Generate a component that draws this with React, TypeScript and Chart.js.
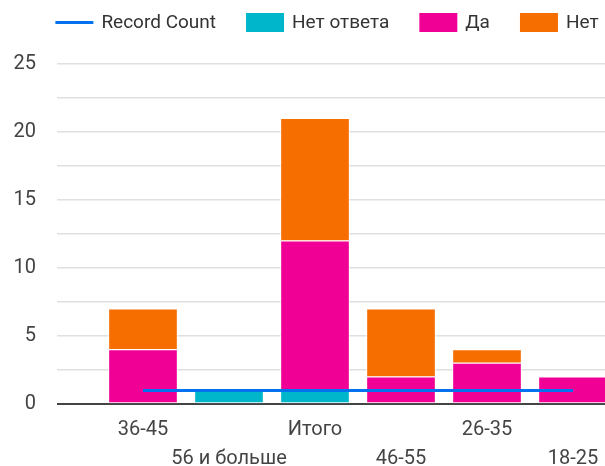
import React, { useEffect, useRef } from 'react';
import { Chart, registerables } from 'chart.js';
Chart.register(...registerables);

const categories = ['36-45', '56 и больше', 'Итого', '46-55', '26-35', '18-25'];
const recordCount = [1, 1, 1, 1, 1, 1];
const netOtveta = [0, 1, 1, 0, 0, 0];
const da = [4, 0, 11, 2, 3, 2];
const net = [3, 0, 9, 5, 1, 0];
const yTickLabels = [0, 5, 10, 15, 20, 25];

const FONT = 'Roboto, sans-serif';
const COLORS = { line: '#0072f0', teal: '#00b6cb', magenta: '#f10096', orange: '#f66d00' };

const legendPlugin = {
  id: 'customLegend',
  afterDraw(chart: any) {
    const ctx = chart.ctx;
    ctx.save();
    ctx.font = `19px ${FONT}`;
    const items = chart.data.datasets.map((ds: any) => ({
      label: ds.label,
      color: ds.type === 'line' ? ds.borderColor : ds.backgroundColor,
      line: ds.type === 'line',
    }));
    const symW = 38, gapST = 8, gapItem = 30;
    const widths = items.map((it: any) => symW + gapST + ctx.measureText(it.label).width);
    const total = widths.reduce((a: number, b: number) => a + b, 0) + gapItem * (items.length - 1);
    let x = 327 - total / 2;
    const cy = 22.5;
    items.forEach((it: any, i: number) => {
      if (it.line) {
        ctx.strokeStyle = it.color;
        ctx.lineWidth = 3;
        ctx.beginPath();
        ctx.moveTo(x, cy);
        ctx.lineTo(x + symW, cy);
        ctx.stroke();
      } else {
        ctx.fillStyle = it.color;
        ctx.fillRect(x, cy - 9.5, symW, 19);
      }
      ctx.fillStyle = '#333';
      ctx.textBaseline = 'middle';
      ctx.textAlign = 'left';
      ctx.fillText(it.label, x + symW + gapST, cy + 1);
      x += widths[i] + gapItem;
    });
    ctx.restore();
  },
};

export default function App() {
  const ref = useRef<HTMLCanvasElement>(null);
  useEffect(() => {
    if (!ref.current) return;
    const toXY = (arr: number[]) => categories.map((_, i) => ({ x: i, y: arr[i] }));
    const barCommon = {
      borderColor: 'rgba(255,255,255,0.75)',
      borderWidth: 1,
      borderSkipped: false,
      barThickness: 69,
    };
    const chart = new Chart(ref.current, {
      type: 'bar',
      data: {
        datasets: [
          {
            type: 'line',
            label: 'Record Count',
            data: toXY(recordCount),
            borderColor: COLORS.line,
            backgroundColor: COLORS.line,
            borderWidth: 3,
            pointRadius: 0,
            fill: false,
            tension: 0,
          } as any,
          { label: 'Нет ответа', data: toXY(netOtveta), backgroundColor: COLORS.teal, ...barCommon } as any,
          { label: 'Да', data: toXY(da), backgroundColor: COLORS.magenta, ...barCommon } as any,
          { label: 'Нет', data: toXY(net), backgroundColor: COLORS.orange, ...barCommon } as any,
        ],
      },
      options: {
        animation: false,
        responsive: false,
        maintainAspectRatio: false,
        layout: { padding: { top: 64, left: 0, right: 0, bottom: 0 } },
        plugins: { legend: { display: false }, tooltip: { enabled: false } },
        scales: {
          x: {
            type: 'linear',
            min: -1,
            max: 5.372,
            stacked: true,
            offset: false,
            grid: { display: false },
            border: { display: false },
            afterBuildTicks: (axis: any) => {
              axis.ticks = categories.map((_, i) => ({ value: i }));
            },
            afterFit: (s: any) => {
              s.height = 62;
            },
            ticks: {
              autoSkip: false,
              maxRotation: 0,
              minRotation: 0,
              padding: 3,
              color: '#444',
              font: { family: FONT, size: 20, lineHeight: 1.45 },
              callback: (v: any) => {
                const i = Math.round(Number(v));
                return i % 2 === 0 ? [categories[i], ''] : ['', categories[i]];
              },
            },
          },
          y: {
            stacked: true,
            min: 0,
            max: 25,
            border: { display: false },
            afterFit: (s: any) => {
              s.width = 57;
            },
            grid: {
              drawTicks: false,
              color: (c: any) => (c.tick && c.tick.value === 0 ? '#444' : '#e0e0e0'),
              lineWidth: (c: any) => (c.tick && c.tick.value === 0 ? 2 : 1.5),
            },
            ticks: {
              stepSize: 2.5,
              padding: 21,
              color: '#444',
              font: { family: FONT, size: 20 },
              callback: (v: any) => (yTickLabels.includes(Number(v)) ? String(v) : ''),
            },
          },
        },
      } as any,
      plugins: [legendPlugin],
    });
    return () => chart.destroy();
  }, []);
  return (
    <div style={{ position: 'fixed', left: 0, top: 0, width: 605, height: 466, background: '#fff' }}>
      <canvas ref={ref} width={605} height={466} style={{ display: 'block' }} />
    </div>
  );
}
